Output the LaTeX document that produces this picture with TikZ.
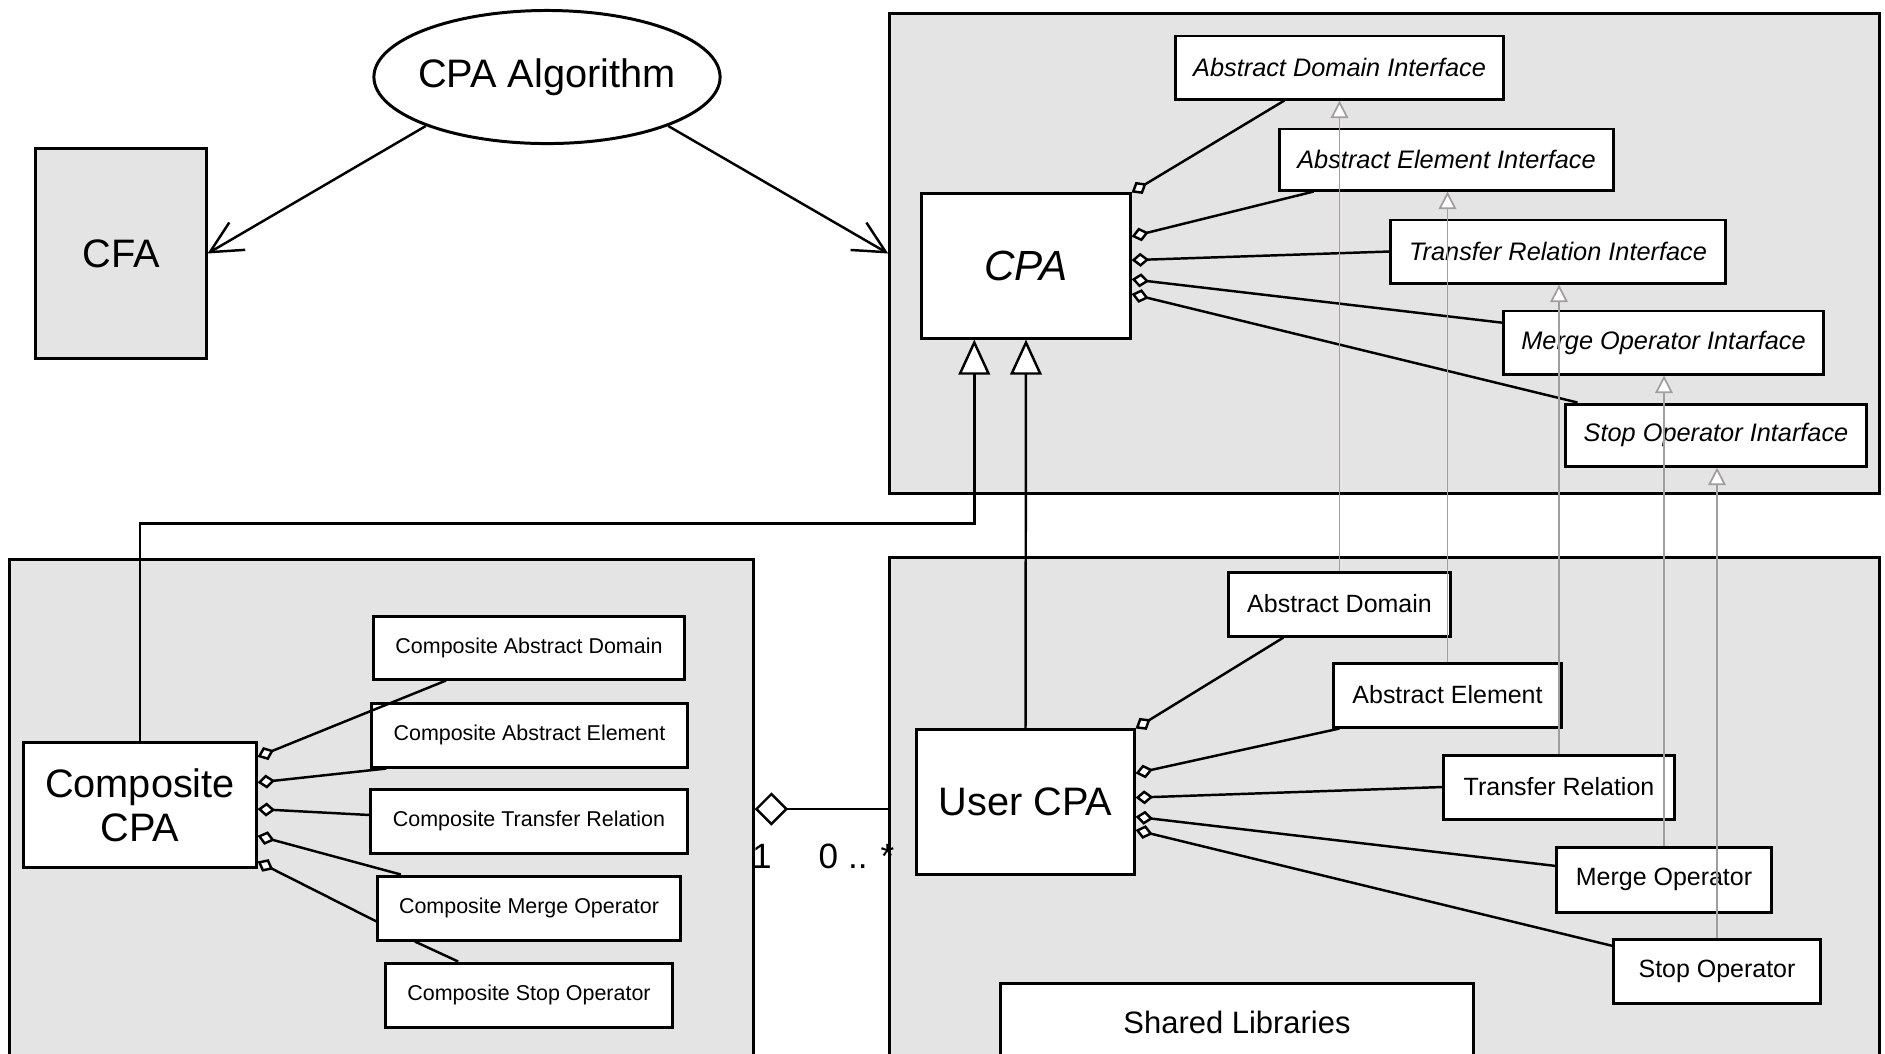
\documentclass[tikz,border=0pt]{standalone}
\usepackage{fontspec}
\setmainfont{Liberation Sans}
\usetikzlibrary{arrows.meta,shapes.geometric,calc}

\definecolor{pkggray}{HTML}{E4E4E4}
\definecolor{realgray}{HTML}{A29E9E}

\begin{document}
\begin{tikzpicture}[x=0.01cm, y=-0.01cm]
        \tikzstyle{pkg}=[draw=black, fill=pkggray, line width=0.85pt, inner sep=0pt]
        \tikzstyle{cls}=[draw=black, fill=white, line width=0.85pt, inner sep=0pt, align=center]
        \tikzstyle{iface}=[cls, minimum height=0.63cm, font=\fontsize{7.2}{9}\selectfont\itshape]
        \tikzstyle{impl}=[cls, minimum height=0.64cm, font=\fontsize{7.1}{9}\selectfont]
        \tikzstyle{part}=[cls, minimum height=0.64cm, font=\fontsize{6.1}{8}\selectfont]
        \tikzstyle{big}=[font=\fontsize{11.3}{12.5}\selectfont]
        \tikzstyle{link}=[line width=0.7pt]
        \tikzstyle{has}=[link, {Diamond[fill=white, length=5pt, width=4pt]}-]
        \tikzstyle{inherit}=[link, -{Triangle[fill=white, length=10pt, width=9pt]}]
        \tikzstyle{real}=[draw=realgray, line width=0.5pt, -{Triangle[fill=white, length=5pt, width=5pt]}]
        \tikzstyle{uses}=[link, -{Straight Barb[length=9pt, width=9pt]}]

        \path [use as bounding box, clip] (0,0) rectangle (1885,1053);

        % Packages
        \draw node at (1384.5, 253.5) [pkg, minimum width=9.89cm, minimum height=4.79cm] (cpapkg) {};
        \draw node at (381.5, 809) [pkg, minimum width=7.43cm, minimum height=4.98cm] (comppkg) {};
        \draw node at (1384.5, 808) [pkg, minimum width=9.89cm, minimum height=5.00cm] (userpkg) {};

        % Algorithm and CFA
        \draw node at (547, 77) [ellipse, draw, line width=0.85pt, fill=white, inner xsep=-3pt, inner ysep=0pt, minimum width=3.46cm, minimum height=1.33cm, big] (alg) {CPA Algorithm};
        \draw node at (121, 253.5) [pkg, minimum width=1.70cm, minimum height=2.09cm, big] (cfa) {CFA};

        % CPA and its interfaces
        \draw node at (1026, 266) [cls, minimum width=2.08cm, minimum height=1.44cm, font=\fontsize{12}{14}\selectfont\itshape] (cpa) {CPA};
        \draw node at (1339.5, 67.5) [iface, minimum width=3.27cm] (adi) {Abstract Domain Interface};
        \draw node at (1446.5, 159.5) [iface, minimum width=3.33cm, minimum height=0.61cm] (aei) {Abstract Element Interface};
        \draw node at (1558, 251.5) [iface, minimum width=3.34cm] (tri) {Transfer Relation Interface};
        \draw node at (1663.5, 342.5) [iface, minimum width=3.19cm] (moi) {Merge Operator Intarface};
        \draw node at (1716, 435) [iface, minimum width=3.00cm, minimum height=0.62cm] (soi) {Stop Operator Intarface};

        % User CPA
        \draw node at (1025.5, 802) [cls, minimum width=2.17cm, minimum height=1.44cm, big] (ucpa) {User CPA};
        \draw node at (1339.5, 604) [impl, minimum width=2.21cm] (ad) {Abstract Domain};
        \draw node at (1447.5, 695) [impl, minimum width=2.27cm] (ae) {Abstract Element};
        \draw node at (1559, 787) [impl, minimum width=2.30cm] (tr) {Transfer Relation};
        \draw node at (1664, 879.5) [impl, minimum width=2.14cm, minimum height=0.65cm] (mo) {Merge Operator};
        \draw node at (1717, 971) [impl, minimum width=2.06cm] (so) {Stop Operator};
        \draw node at (1237, 1022) [cls, minimum width=4.72cm, minimum height=0.78cm, font=\fontsize{8.8}{10}\selectfont] (shared) {Shared Libraries};

        % Composite CPA
        \draw node at (140, 805) [cls, minimum width=2.32cm, minimum height=1.24cm, big] (ccpa) {Composite\\CPA};
        \draw node at (529, 647.5) [part, minimum width=3.10cm, minimum height=0.63cm] (cad) {Composite Abstract Domain};
        \draw node at (529.5, 735) [part, minimum width=3.15cm] (cae) {Composite Abstract Element};
        \draw node at (529, 821) [part, minimum width=3.16cm] (ctr) {Composite Transfer Relation};
        \draw node at (529, 908) [part, minimum width=3.02cm] (cmo) {Composite Merge Operator};
        \draw node at (529, 995) [part, minimum width=2.86cm] (cso) {Composite Stop Operator};

        % Algorithm -> CFA, CPA
        \draw [uses] (alg.202) -- (cfa.east);
        \draw [uses] (alg.338) -- (cpapkg.west);

        % CPA -> interfaces
        \draw [has] (cpa.north east) -- ($(adi.south west)!.333!(adi.south east)$);
        \draw [has] ($(cpa.north east)!.30!(cpa.south east)$) -- ($(aei.south west)!.105!(aei.south east)$);
        \draw [has] ($(cpa.north east)!.46!(cpa.south east)$) -- (tri.west);
        \draw [has] ($(cpa.north east)!.59!(cpa.south east)$) -- ($(moi.north west)!.2!(moi.south west)$);
        \draw [has] ($(cpa.north east)!.69!(cpa.south east)$) -- ($(soi.north west)!.043!(soi.north east)$);

        % User CPA -> parts
        \draw [has] (ucpa.north east) -- ($(ad.south west)!.25!(ad.south east)$);
        \draw [has] ($(ucpa.north east)!.305!(ucpa.south east)$) -- ($(ae.south west)!.03!(ae.south east)$);
        \draw [has] ($(ucpa.north east)!.47!(ucpa.south east)$) -- (tr.west);
        \draw [has] ($(ucpa.north east)!.6!(ucpa.south east)$) -- ($(mo.north west)!.3!(mo.south west)$);
        \draw [has] ($(ucpa.north east)!.69!(ucpa.south east)$) -- ($(so.north west)!.125!(so.south west)$);

        % Composite CPA -> parts
        \draw [has] ($(ccpa.north east)!.121!(ccpa.south east)$) -- ($(cad.south west)!.235!(cad.south east)$);
        \draw [has] ($(ccpa.north east)!.323!(ccpa.south east)$) -- ($(cae.south west)!.05!(cae.south east)$);
        \draw [has] ($(ccpa.north east)!.532!(ccpa.south east)$) -- ($(ctr.north west)!.41!(ctr.south west)$);
        \draw [has] ($(ccpa.north east)!.742!(ccpa.south east)$) -- ($(cmo.north west)!.08!(cmo.north east)$);
        \draw [has] ($(ccpa.north east)!.944!(ccpa.south east)$) -- ($(cmo.north west)!.7!(cmo.south west)$);
        \draw [link] ($(cmo.south west)!.126!(cmo.south east)$) -- ($(cso.north west)!.255!(cso.north east)$);

        % Inheritance
        \draw [inherit] (ucpa.north) -- (cpa.south);
        \draw [inherit] (ccpa.north) -- ++(0,-218) -| ($(cpa.south west)!.255!(cpa.south east)$);

        % Parts -> interfaces
        \draw [real] (ad.north) -- (ad.north |- adi.south);
        \draw [real] (ae.north) -- (ae.north |- aei.south);
        \draw [real] (tr.north) -- (tr.north |- tri.south);
        \draw [real] (mo.north) -- (mo.north |- moi.south);
        \draw [real] (so.north) -- (so.north |- soi.south);

        % Composite package -> user package
        \draw [link, {Diamond[fill=white, length=9.5pt, width=9.5pt]}-] (comppkg.east) -- (comppkg.east -| userpkg.west);
        \draw node at (762, 856) [font=\fontsize{10}{12}\selectfont] (one) {1};
        \draw node at (818, 856) [anchor=west, inner sep=0pt, font=\fontsize{10}{12}\selectfont] (many) {0 .. *};

\end{tikzpicture}
\end{document}
